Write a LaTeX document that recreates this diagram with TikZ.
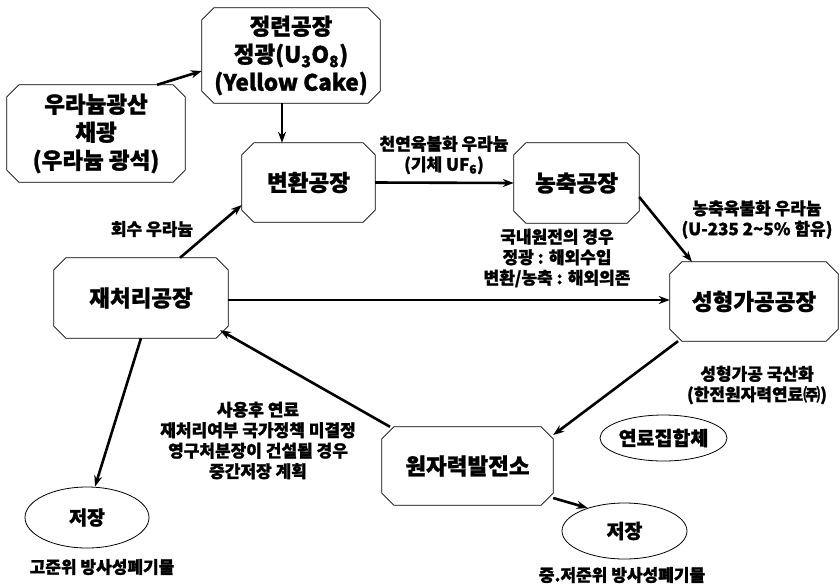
\documentclass[tikz,border=0pt]{standalone}
\usepackage{fontspec}
\setmainfont{Noto Sans CJK KR}[BoldFeatures={FakeBold=1.2}]
\usetikzlibrary{shapes.geometric,arrows.meta,calc}
\begin{document}
\begin{tikzpicture}[x=1pt,y=-1pt,
  box/.style={rectangle, inner sep=0pt, align=center,
    font=\bfseries\fontsize{22.5}{28}\selectfont},
  oval/.style={ellipse, draw, line width=0.8pt, inner sep=0pt, font=\bfseries\fontsize{19.5}{24}\selectfont},
  lbl/.style={align=center, inner sep=0pt, font=\bfseries\fontsize{17}{20.5}\selectfont},
  octline/.style={line width=0.8pt, line join=round},
  arr/.style={-{Stealth[length=11pt,width=8pt]}, line width=2.6pt}]
\useasboundingbox (0,0) rectangle (840,587);

\node[box, minimum width=178pt, minimum height=95pt] (jeong) at (291,55.5)
  {정련공장\\정광(U\textsubscript{3}O\textsubscript{8})\\(Yellow Cake)};
\node[box, minimum width=178pt, minimum height=97pt] (mine) at (96,133.5)
  {우라늄광산\\채광\\(우라늄 광석)};
\node[box, minimum width=133pt, minimum height=79pt] (byeon) at (308.5,182.5) {변환공장};
\node[box, minimum width=125pt, minimum height=80pt] (nong) at (576.5,183) {농축공장};
\node[box, minimum width=174pt, minimum height=80pt] (jae) at (141,298) {재처리공장};
\node[box, minimum width=168pt, minimum height=79pt] (seong) at (754,301.5) {성형가공공장};
\node[box, minimum width=171pt, minimum height=78pt] (won) at (467.5,466) {원자력발전소};

\foreach \n in {jeong,mine,byeon,nong,jae,seong,won}
  \draw[octline] ($(\n.north west)+(12,0)$) -- ($(\n.north east)+(-12,0)$)
    -- ($(\n.north east)+(0,12)$) -- ($(\n.south east)+(0,-12)$)
    -- ($(\n.south east)+(-12,0)$) -- ($(\n.south west)+(12,0)$)
    -- ($(\n.south west)+(0,-12)$) -- ($(\n.north west)+(0,12)$) -- cycle;

\node[oval, minimum width=124pt, minimum height=61pt] (st1) at (87,517.5) {저장};
\node[oval, minimum width=125pt, minimum height=56pt] (st2) at (624.5,531) {저장};
\node[oval, minimum width=127pt, minimum height=46pt] (fuel) at (663.5,438) {연료집합체};

\draw[arr] ($(mine.north)+(61,0)$) -- ($(jeong.west)+(0,15.5)$);
\draw[arr] ($(jeong.south)+(-9,0)$) -- ($(byeon.north)+(-26.5,0)$);
\draw[arr] (byeon.east) -- (nong.west);
\draw[arr] ($(nong.east)+(0,14)$) -- ($(seong.north)+(-62,0)$);
\draw[arr] ($(jae.north)+(39,0)$) -- ($(byeon.west)+(0,22.5)$);
\draw[arr] ($(jae.east)+(0,2)$) -- ($(seong.west)+(0,-1.5)$);
\draw[arr] ($(seong.south)+(-76,0)$) -- ($(won.east)+(0,-31)$);
\draw[arr] ($(won.north)+(-77.5,0)$) -- ($(jae.south)+(79,-8)$);
\draw[arr] (jae.south) -- ($(st1.north)+(8,0)$);
\draw[arr] ($(won.east)+(0,32)$) -- (st2.148);

\node[lbl] (l1) at (444,155) {천연육불화 우라늄\\(기체 UF\textsubscript{6})};
\node[lbl] (l2) at (757,219.5) {농축육불화 우라늄\\(U-235 2\textasciitilde5\% 함유)};
\node[lbl] (l3) at (557,258) {국내원전의 경우\\정광 : 해외수입\\변환/농축 : 해외의존};
\node[lbl] (l4) at (152,229) {회수 우라늄};
\node[lbl] (l5) at (258,440.5) {사용후 연료\\재처리여부 국가정책 미결정\\영구처분장이 건설될 경우\\중간저장 계획};
\node[lbl] (l6) at (757,385) {성형가공 국산화\\(한전원자력연료㈜)};
\node[lbl] (l7) at (102,567) {고준위 방사성폐기물};
\node[lbl] (l8) at (622,575) {중.저준위 방사성폐기물};
\end{tikzpicture}
\end{document}
